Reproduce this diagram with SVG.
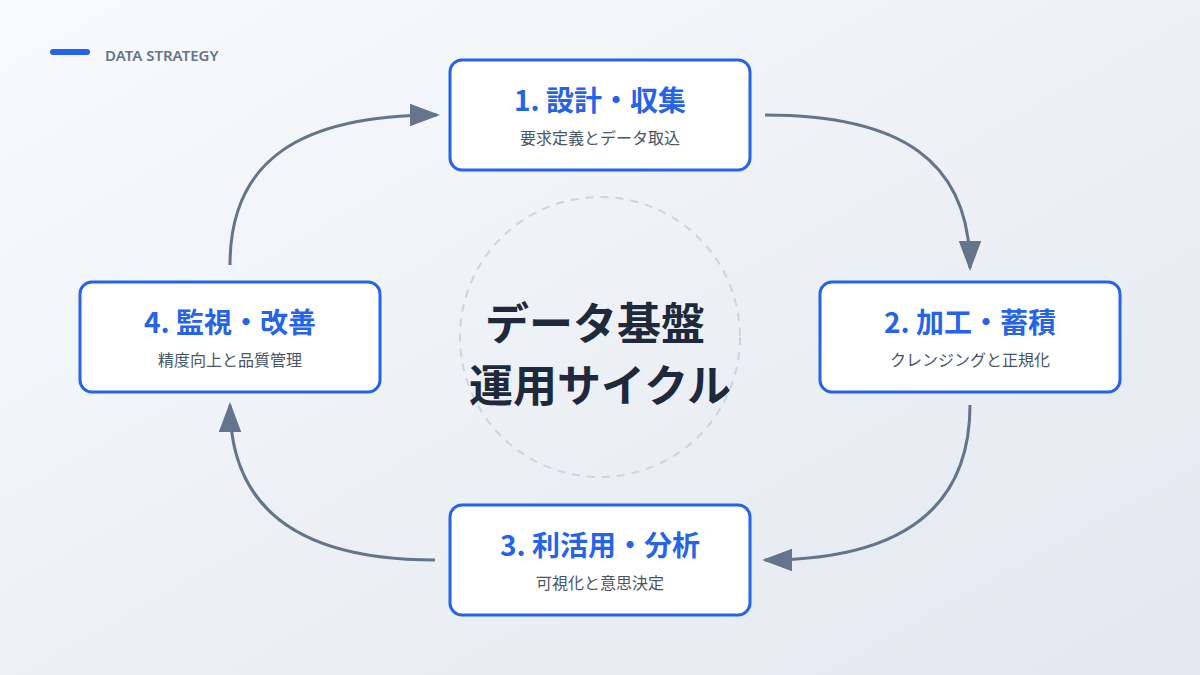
<svg xmlns="http://www.w3.org/2000/svg" width="1200" height="675" viewBox="0 0 1200 675">
<defs>
<linearGradient id="bg" x1="0" y1="0" x2="1" y2="1"><stop offset="0" stop-color="#f8fafc"/><stop offset="1" stop-color="#e2e8f0"/></linearGradient>
<marker id="ah" viewBox="0 0 10 10" refX="9" refY="5" markerWidth="10" markerHeight="7.5" orient="auto" markerUnits="strokeWidth" preserveAspectRatio="none"><path d="M0,0 L10,5 L0,10 z" fill="#64748b"/></marker>
<style>
.box{fill:#fff;stroke:#2563eb;stroke-width:3}
.t{font-family:"Noto Sans CJK JP","Noto Sans",sans-serif;font-weight:700;font-size:28px;fill:#2563eb;text-anchor:middle}
.s{font-family:"Noto Sans CJK JP","Noto Sans",sans-serif;font-size:16px;fill:#475569;text-anchor:middle}
.c{fill:none;stroke:#64748b;stroke-width:3;marker-end:url(#ah)}
</style>
</defs>
<rect width="1200" height="675" fill="url(#bg)"/>
<rect x="50" y="49" width="40" height="6" rx="3" fill="#2563eb"/>
<text x="105" y="61" font-family="'Noto Sans','Open Sans',sans-serif" font-weight="600" font-size="15" fill="#64748b">DATA STRATEGY</text>
<circle cx="600" cy="337" r="140" fill="none" stroke="#cbd5e1" stroke-width="2" stroke-dasharray="8 7"/>
<text x="595" y="340" text-anchor="middle" font-family="'Noto Sans CJK JP',sans-serif" font-weight="700" font-size="44" fill="#1e293b">データ基盤</text>
<text x="600" y="402" text-anchor="middle" font-family="'Noto Sans CJK JP',sans-serif" font-weight="700" font-size="44" fill="#1e293b">運用サイクル</text>
<g id="connectors">
<path class="c" d="M765,115 C900,115 970,160 970,268"/>
<path class="c" d="M970,405 C970,510 900,560 765,560"/>
<path class="c" d="M435,560 C300,560 230,510 230,405"/>
<path class="c" d="M230,265 C230,160 300,115 437,115"/>
</g>
<g id="n1"><rect class="box" x="450" y="60" width="300" height="110" rx="12"/><text class="t" x="600" y="111">1. 設計・収集</text><text class="s" x="600" y="144">要求定義とデータ取込</text></g>
<g id="n2"><rect class="box" x="820" y="282" width="300" height="110" rx="12"/><text class="t" x="970" y="333">2. 加工・蓄積</text><text class="s" x="970" y="366">クレンジングと正規化</text></g>
<g id="n3"><rect class="box" x="450" y="505" width="300" height="110" rx="12"/><text class="t" x="600" y="556">3. 利活用・分析</text><text class="s" x="600" y="589">可視化と意思決定</text></g>
<g id="n4"><rect class="box" x="80" y="282" width="300" height="110" rx="12"/><text class="t" x="230" y="333">4. 監視・改善</text><text class="s" x="230" y="366">精度向上と品質管理</text></g>
</svg>
